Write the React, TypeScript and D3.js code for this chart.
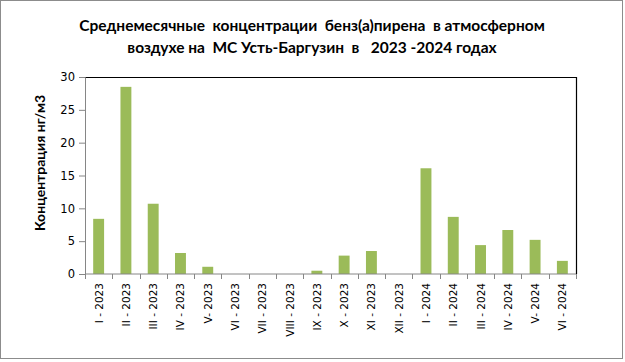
import React, { useEffect, useRef } from "react";
import * as d3 from "d3";

// месяцы и значения (нг/м3)
const months = [
  "I - 2023", "II - 2023", "III - 2023", "IV - 2023", "V- 2023", "VI - 2023",
  "VII - 2023", "VIII - 2023", "IX - 2023", "X - 2023", "XI - 2023", "XII - 2023",
  "I - 2024", "II - 2024", "III - 2024", "IV - 2024", "V- 2024", "VI - 2024",
];
const values = [8.4, 28.5, 10.7, 3.2, 1.1, 0, 0, 0, 0.5, 2.8, 3.5, 0, 16.1, 8.7, 4.4, 6.7, 5.2, 2.0];
const yTicks = [0, 5, 10, 15, 20, 25, 30];
const titleLines = [
  "Среднемесячные  концентрации  бенз(а)пирена  в атмосферном",
  "воздухе на  МС Усть-Баргузин  в   2023 -2024 годах",
];
const yLabel = "Концентрация нг/м3";

function App() {
  const svgRef = useRef<SVGSVGElement>(null);

  useEffect(() => {
    const width = 625, height = 362;
    const margin = { top: 77, right: 49, bottom: 88, left: 85 };
    const innerW = width - margin.left - margin.right;
    const innerH = height - margin.top - margin.bottom;

    const svg = d3.select(svgRef.current);
    svg.selectAll("*").remove();

    // рамка диаграммы
    svg.append("rect")
      .attr("x", 0.5).attr("y", 0.5)
      .attr("width", 622).attr("height", 358)
      .attr("fill", "white")
      .attr("stroke", "#8c8c8c");

    // заголовок
    const title = svg.append("text")
      .attr("text-anchor", "middle")
      .attr("font-family", "Lato, 'Open Sans', sans-serif")
      .attr("font-weight", "bold")
      .attr("font-size", 15.5);
    titleLines.forEach((t, i) => {
      title.append("tspan")
        .attr("x", 312)
        .attr("y", 31 + i * 22)
        .style("white-space", "pre")
        .text(t);
    });

    const xScale = d3.scaleBand()
      .domain(months)
      .range([0, innerW])
      .paddingInner(0.6)
      .paddingOuter(0.3);

    const yScale = d3.scaleLinear()
      .domain([0, 30])
      .range([innerH, 0]);

    const g = svg.append("g")
      .attr("transform", `translate(${margin.left}, ${margin.top})`);

    // рамка области построения
    g.append("path")
      .attr("d", `M0,0.5H${innerW + 0.5}V${innerH}`)
      .attr("fill", "none")
      .attr("stroke", "black")
      .attr("stroke-width", 1.2);

    g.selectAll("rect.bar")
      .data(values)
      .join("rect")
      .attr("class", "bar")
      .attr("x", (d, i) => xScale(months[i]) as number)
      .attr("y", d => yScale(d))
      .attr("width", xScale.bandwidth())
      .attr("height", d => innerH - yScale(d))
      .attr("fill", "#9bbb59");

    // ось Y
    const yAxis = g.append("g")
      .call(d3.axisLeft(yScale).tickValues(yTicks).tickSize(6).tickPadding(4));
    yAxis.select(".domain").attr("stroke", "#868686");
    yAxis.selectAll(".tick line").attr("stroke", "#868686");
    yAxis.selectAll("text")
      .attr("font-family", "'DejaVu Sans', Verdana, sans-serif")
      .attr("font-size", 11.5)
      .attr("fill", "black");

    // ось X: деления между категориями
    const xAxis = g.append("g").attr("transform", `translate(0, ${innerH})`);
    xAxis.append("line")
      .attr("x1", 0).attr("x2", innerW)
      .attr("stroke", "#868686");
    d3.range(months.length + 1).forEach(i => {
      const x = Math.round((innerW / months.length) * i) + 0.5;
      xAxis.append("line")
        .attr("x1", x).attr("x2", x)
        .attr("y1", 0).attr("y2", 5)
        .attr("stroke", "#868686");
    });
    xAxis.selectAll("text.xl")
      .data(months)
      .join("text")
      .attr("class", "xl")
      .attr("transform", d => `translate(${(xScale(d) as number) + xScale.bandwidth() / 2 + 4}, 9) rotate(-90)`)
      .attr("text-anchor", "end")
      .attr("font-family", "'DejaVu Sans', Verdana, sans-serif")
      .attr("font-size", 10.5)
      .text(d => d);

    // подпись оси Y
    svg.append("text")
      .attr("transform", `translate(45, 163) rotate(-90)`)
      .attr("text-anchor", "middle")
      .attr("font-family", "Lato, 'Open Sans', sans-serif")
      .attr("font-weight", "bold")
      .attr("font-size", 14)
      .text(yLabel);
  }, []);

  return (
    <svg
      ref={svgRef}
      width={625}
      height={362}
      style={{ position: "absolute", left: 0, top: 0, background: "white" }}
    />
  );
}

export default App;
